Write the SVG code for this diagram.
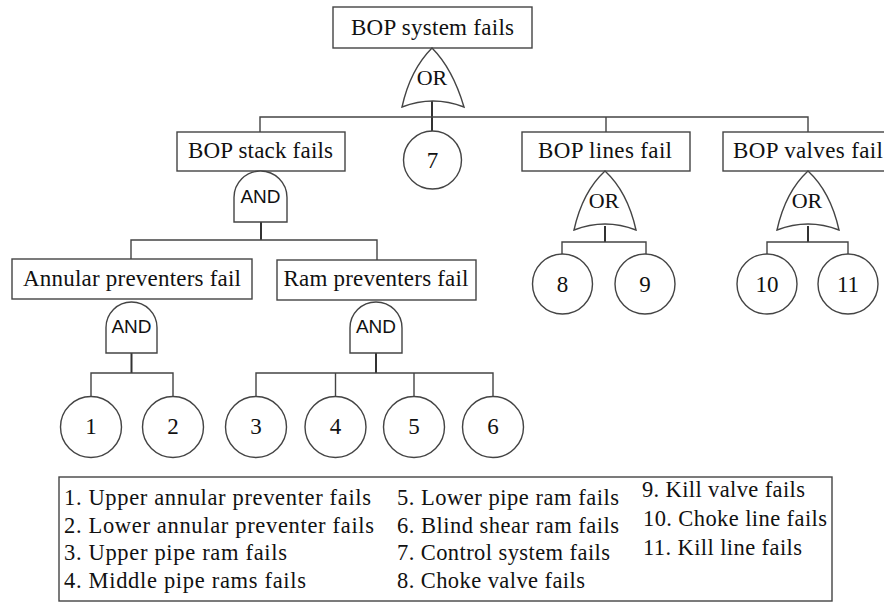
<svg xmlns="http://www.w3.org/2000/svg" width="884" height="603" viewBox="0 0 884 603">
<defs>
<style>
.box{fill:#fff;stroke:#444;stroke-width:1.4}
.gate{fill:#fff;stroke:#444;stroke-width:1.4}
.ev{fill:#fff;stroke:#444;stroke-width:1.4}
.ln{fill:none;stroke:#444;stroke-width:1.4}
.stem{fill:none;stroke:#333;stroke-width:2}
.t{font-family:"Liberation Serif","Times New Roman",serif;font-size:23px;fill:#111;text-anchor:middle}
.tl{font-family:"Liberation Serif","Times New Roman",serif;font-size:22.5px;fill:#111}
.and{font-family:"Liberation Sans",Arial,sans-serif;font-size:19px;fill:#111;text-anchor:middle}
.or{font-family:"Liberation Serif","Times New Roman",serif;font-size:22px;fill:#111;text-anchor:middle}
</style>
</defs>
<rect width="884" height="603" fill="#fff"/>
<g id="connectors">
<line class="stem" x1="432" y1="100" x2="432" y2="131"/>
<polyline class="ln" points="260,132 260,117 808,117 808,132"/>
<line class="ln" x1="606" y1="117" x2="606" y2="132"/>
<polyline class="stem" points="261,222 261,240"/>
<polyline class="ln" points="131,259 131,240 377,240 377,260"/>
<line class="stem" x1="131.5" y1="353" x2="131.5" y2="373"/>
<polyline class="ln" points="91,396 91,373 173,373 173,396"/>
<line class="stem" x1="376" y1="353" x2="376" y2="373"/>
<polyline class="ln" points="256,396 256,373 493,373 493,396"/>
<line class="ln" x1="335.5" y1="373" x2="335.5" y2="396"/>
<line class="ln" x1="414" y1="373" x2="414" y2="396"/>
<line class="stem" x1="605" y1="226" x2="605" y2="242"/>
<polyline class="ln" points="562,254 562,242 646,242 646,254"/>
<line class="stem" x1="808" y1="226" x2="808" y2="242"/>
<polyline class="ln" points="767,254 767,242 848,242 848,254"/>
</g>
<g id="top">
<rect class="box" x="333" y="7" width="199" height="41"/>
<text class="t" x="432.5" y="35" textLength="163">BOP system fails</text>
</g>
<g id="gate-top">
<path class="gate" d="M402,107 C408,80 420,60 432,48 C444,60 456,80 464,107 Q433,95 402,107 Z"/>
<text class="or" x="432" y="85">OR</text>
</g>
<g id="stack">
<rect class="box" x="177" y="132" width="168" height="39"/>
<text class="t" x="260.5" y="158" textLength="145">BOP stack fails</text>
</g>
<g id="gate-stack">
<path class="gate" d="M234,222 V197.5 A26.5,26.5 0 0 1 287,197.5 V222 Z"/>
<text class="and" x="260.5" y="203">AND</text>
</g>
<g id="e7">
<circle class="ev" cx="432.5" cy="160" r="29"/>
<text class="t" x="432.5" y="168">7</text>
</g>
<g id="lines">
<rect class="box" x="522" y="132" width="168" height="39"/>
<text class="t" x="605" y="158" textLength="134">BOP lines fail</text>
</g>
<g id="gate-lines">
<path class="gate" d="M574,230 C580,203 592,183 605,171 C618,183 630,203 636,230 Q605,218 574,230 Z"/>
<text class="or" x="604" y="208">OR</text>
</g>
<g id="valves">
<rect class="box" x="723" y="132" width="170" height="39"/>
<text class="t" x="808" y="158" textLength="150">BOP valves fail</text>
</g>
<g id="gate-valves">
<path class="gate" d="M777,230 C783,203 795,183 808,171 C821,183 833,203 839,230 Q808,218 777,230 Z"/>
<text class="or" x="807" y="208">OR</text>
</g>
<g id="e8"><circle class="ev" cx="562.5" cy="284" r="30"/><text class="t" x="562.5" y="292">8</text></g>
<g id="e9"><circle class="ev" cx="645" cy="284" r="30"/><text class="t" x="645" y="292">9</text></g>
<g id="e10"><circle class="ev" cx="767" cy="284" r="30"/><text class="t" x="767" y="292">10</text></g>
<g id="e11"><circle class="ev" cx="848" cy="284" r="30"/><text class="t" x="848" y="292">11</text></g>
<g id="annular">
<rect class="box" x="12" y="259" width="240" height="40"/>
<text class="t" x="132" y="286" textLength="218">Annular preventers fail</text>
</g>
<g id="gate-annular">
<path class="gate" d="M106,353 V327.5 A25.5,25.5 0 0 1 157,327.5 V353 Z"/>
<text class="and" x="131.5" y="333">AND</text>
</g>
<g id="ram">
<rect class="box" x="277" y="260" width="199" height="40"/>
<text class="t" x="376" y="286" textLength="185">Ram preventers fail</text>
</g>
<g id="gate-ram">
<path class="gate" d="M350,353 V328 A26,26 0 0 1 402,328 V353 Z"/>
<text class="and" x="376" y="333">AND</text>
</g>
<g id="e1"><circle class="ev" cx="91" cy="427" r="30.5"/><text class="t" x="91" y="434">1</text></g>
<g id="e2"><circle class="ev" cx="173" cy="427" r="30.5"/><text class="t" x="173" y="434">2</text></g>
<g id="e3"><circle class="ev" cx="256" cy="427" r="30.5"/><text class="t" x="256" y="434">3</text></g>
<g id="e4"><circle class="ev" cx="335.5" cy="427" r="30.5"/><text class="t" x="335.5" y="434">4</text></g>
<g id="e5"><circle class="ev" cx="414" cy="427" r="30.5"/><text class="t" x="414" y="434">5</text></g>
<g id="e6"><circle class="ev" cx="493" cy="427" r="30.5"/><text class="t" x="493" y="434">6</text></g>
<g id="legend">
<rect class="box" x="59" y="477" width="773" height="124"/>
<text class="tl" x="64" y="505" textLength="307">1. Upper annular preventer fails</text>
<text class="tl" x="64" y="533" textLength="310">2. Lower annular preventer fails</text>
<text class="tl" x="64" y="560" textLength="223">3. Upper pipe ram fails</text>
<text class="tl" x="64" y="588" textLength="242">4. Middle pipe rams fails</text>
<text class="tl" x="397" y="505" textLength="222">5. Lower pipe ram fails</text>
<text class="tl" x="397" y="533" textLength="222">6. Blind shear ram fails</text>
<text class="tl" x="397" y="560" textLength="213">7. Control system fails</text>
<text class="tl" x="397" y="588" textLength="188">8. Choke valve fails</text>
<text class="tl" x="642" y="497" textLength="163">9. Kill valve fails</text>
<text class="tl" x="643" y="526" textLength="184">10. Choke line fails</text>
<text class="tl" x="643" y="555" textLength="159">11. Kill line fails</text>
</g>
</svg>
